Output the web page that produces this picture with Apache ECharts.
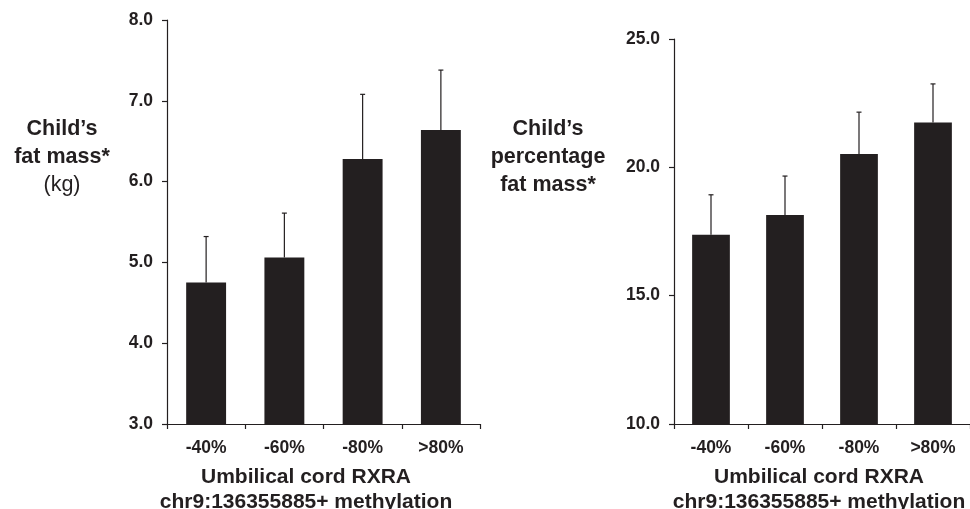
<!DOCTYPE html>
<html>
<head>
<meta charset="utf-8">
<script src="https://cdn.jsdelivr.net/npm/echarts@6/dist/echarts.min.js"></script>
<style>
html,body{margin:0;padding:0;background:#fff;}
#c{width:970px;height:509px;}
</style>
</head>
<body>
<div id="c"></div>
<script>
var categories = ['-40%', '-60%', '-80%', '>80%'];
var fatMass = [4.75, 5.06, 6.28, 6.64];
var fatMassUpper = [5.32, 5.61, 7.08, 7.38];
var pctFat = [17.37, 18.14, 20.52, 21.75];
var pctFatUpper = [18.93, 19.66, 22.15, 23.25];
var leftTicks = {min: 3, max: 8, interval: 1};
var rightTicks = {min: 10, max: 25, interval: 5};

var FONT = "'Liberation Sans', Arial, sans-serif";
var INK = '#231f20';

function errData(vals, ups) {
  return vals.map(function (v, i) { return [i, v, ups[i]]; });
}
function errRender(params, api) {
  var i = api.value(0);
  var base = api.coord([i, api.value(1)]);
  var top = api.coord([i, api.value(2)]);
  var cap = 2.5;
  return {
    type: 'group',
    children: [
      {type: 'line', shape: {x1: base[0], y1: base[1], x2: top[0], y2: top[1]}, style: {stroke: INK, lineWidth: 1.2}},
      {type: 'line', shape: {x1: top[0] - cap, y1: top[1], x2: top[0] + cap, y2: top[1]}, style: {stroke: INK, lineWidth: 1.2}}
    ]
  };
}
function xAxisDef(gi) {
  return {
    type: 'category', gridIndex: gi, data: categories,
    axisLine: {lineStyle: {color: INK, width: 1.2}},
    axisTick: {show: true, length: 5, lineStyle: {color: INK, width: 1.2}},
    axisLabel: {color: INK, fontFamily: FONT, fontWeight: 'bold', fontSize: 17.5, margin: 15}
  };
}
function yAxisDef(gi, t) {
  return {
    type: 'value', gridIndex: gi, min: t.min, max: t.max, interval: t.interval,
    axisLine: {show: true, lineStyle: {color: INK, width: 1.2}},
    axisTick: {show: true, length: 5, lineStyle: {color: INK, width: 1.2}},
    splitLine: {show: false},
    axisLabel: {color: INK, fontFamily: FONT, fontWeight: 'bold', fontSize: 17.5, margin: 14,
      formatter: function (v) { return v.toFixed(1); }}
  };
}
var titleRich = {
  b: {fontFamily: FONT, fontWeight: 'bold', fontSize: 21.5, color: INK, lineHeight: 28},
  n: {fontFamily: FONT, fontWeight: 'normal', fontSize: 21.5, color: INK, lineHeight: 28}
};
var xTitleRich = {
  b: {fontFamily: FONT, fontWeight: 'bold', fontSize: 21, color: INK, lineHeight: 25}
};

var chart = echarts.init(document.getElementById('c'));
chart.setOption({
  animation: false,
  backgroundColor: '#fff',
  title: [
    {text: '{b|Child\u2019s}\n{b|fat mass*}\n{n|(kg)}', left: 57, top: 110, textAlign: 'center',
      textStyle: {rich: titleRich}},
    {text: '{b|Child\u2019s}\n{b|percentage}\n{b|fat mass*}', left: 543, top: 110, textAlign: 'center',
      textStyle: {rich: titleRich}},
    {text: '{b|Umbilical cord RXRA}\n{b|chr9:136355885+ methylation}', left: 301, top: 460, textAlign: 'center',
      textStyle: {rich: xTitleRich}},
    {text: '{b|Umbilical cord RXRA}\n{b|chr9:136355885+ methylation}', left: 814, top: 460, textAlign: 'center',
      textStyle: {rich: xTitleRich}}
  ],
  grid: [
    {left: 167, top: 20, right: 490, bottom: 85},
    {left: 674, top: 39, right: -8, bottom: 85}
  ],
  xAxis: [xAxisDef(0), xAxisDef(1)],
  yAxis: [yAxisDef(0, leftTicks), yAxisDef(1, rightTicks)],
  series: [
    {type: 'bar', xAxisIndex: 0, yAxisIndex: 0, data: fatMass, barWidth: '51%',
      itemStyle: {color: INK}},
    {type: 'custom', xAxisIndex: 0, yAxisIndex: 0, data: errData(fatMass, fatMassUpper),
      renderItem: errRender, z: 3},
    {type: 'bar', xAxisIndex: 1, yAxisIndex: 1, data: pctFat, barWidth: '51%',
      itemStyle: {color: INK}},
    {type: 'custom', xAxisIndex: 1, yAxisIndex: 1, data: errData(pctFat, pctFatUpper),
      renderItem: errRender, z: 3}
  ]
});
</script>
</body>
</html>
